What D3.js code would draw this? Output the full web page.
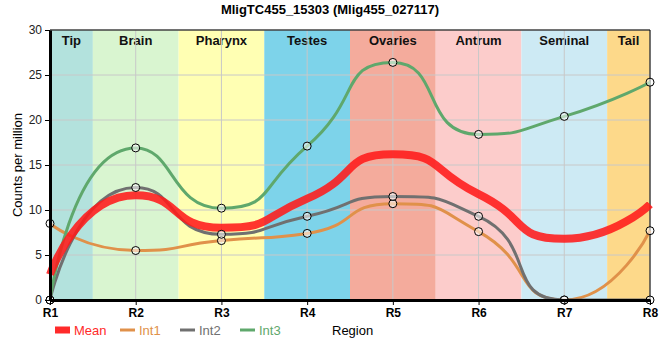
<!DOCTYPE html>
<html><head><meta charset="utf-8">
<script src="https://cdn.jsdelivr.net/npm/d3@7"></script>
<style>body{margin:0;background:#fff;font-family:"Liberation Sans",Arial,sans-serif}</style>
</head><body><svg id="c" width="660" height="360"></svg>
<script>
const title = "MligTC455_15303 (Mlig455_027117)";
const regions = ["R1","R2","R3","R4","R5","R6","R7","R8"];
const bandNames = ["Tip","Brain","Pharynx","Testes","Ovaries","Antrum","Seminal","Tail"];
const bandColors = ["#b3e2dd","#d9f5d0","#ffffb3","#7dd3ea","#f4ab9c","#fccccb","#cdeaf4","#fdd98a"];
const int1 = [8.5, 5.5, 6.6, 7.4, 10.7, 7.6, 0, 7.7];
const int2 = [0, 12.5, 7.3, 9.3, 11.5, 9.3, 0, 0];
const int3 = [0, 16.9, 10.2, 17.1, 26.4, 18.4, 20.4, 24.2];
const meanVals = regions.map((r,i)=>(int1[i]+int2[i]+int3[i])/3);
const yTicks = [0,5,10,15,20,25,30];

const svg = d3.select("#c");
const L=50,R=650,T=30,B=300;
const x = d3.scalePoint().domain(regions).range([L,R]);
const y = d3.scaleLinear().domain([0,30]).range([B,T]);
const step = x.step();

// smoothed bezier path (length-ratio control points, clamped to neighbour range)
function smoothPath(vals, smooth=0.6){
  const P = vals.map((v,i)=>[x(regions[i]), y(v)]);
  const path = d3.path();
  let prevX, prevY, cpx0, cpy0;
  const mn=Math.min, mx=Math.max;
  for(let i=0;i<P.length;i++){
    const [px,py] = P[i];
    if(i===0){ path.moveTo(px,py); cpx0=px; cpy0=py; }
    else {
      let cpx1, cpy1, ncx=px, ncy=py;
      if(i===P.length-1){ cpx1=px; cpy1=py; }
      else {
        const [nx,ny] = P[i+1];
        let vx = nx-prevX, vy = ny-prevY;
        const dx0=px-prevX, dx1=nx-px, dy0=py-prevY, dy1=ny-py;
        const l0=Math.hypot(dx0,dy0), l1=Math.hypot(dx1,dy1);
        const r = l1/(l1+l0);
        ncx = px + vx*smooth*r; ncy = py + vy*smooth*r;
        ncx = mn(ncx, mx(nx,px)); ncy = mn(ncy, mx(ny,py));
        ncx = mx(ncx, mn(nx,px)); ncy = mx(ncy, mn(ny,py));
        vx = ncx-px; vy = ncy-py;
        cpx1 = px - vx*l0/l1; cpy1 = py - vy*l0/l1;
        cpx1 = mn(cpx1, mx(prevX,px)); cpy1 = mn(cpy1, mx(prevY,py));
        cpx1 = mx(cpx1, mn(prevX,px)); cpy1 = mx(cpy1, mn(prevY,py));
        vx = px-cpx1; vy = py-cpy1;
        ncx = px + vx*l1/l0; ncy = py + vy*l1/l0;
      }
      path.bezierCurveTo(cpx0,cpy0,cpx1,cpy1,px,py);
      cpx0=ncx; cpy0=ncy;
    }
    prevX=px; prevY=py;
  }
  return path.toString();
}

// bands
const g = svg.append("g");
bandNames.forEach((n,i)=>{
  const cx = x(regions[i]);
  const x0 = Math.max(L, cx-step/2), x1 = Math.min(R, cx+step/2);
  g.append("rect").attr("x",x0).attr("y",T).attr("width",x1-x0).attr("height",B-T).attr("fill",bandColors[i]);
  g.append("text").attr("x",(x0+x1)/2).attr("y",T+15).attr("text-anchor","middle")
    .attr("font-size",13).attr("font-weight","bold").attr("fill","#111").text(n);
});
// grid
svg.append("g").selectAll("line").data(regions).join("line")
  .attr("x1",d=>x(d)).attr("x2",d=>x(d)).attr("y1",T).attr("y2",B).attr("stroke","#c8c8c8").attr("stroke-width",1);
svg.append("g").selectAll("line").data(yTicks).join("line")
  .attr("x1",L).attr("x2",R).attr("y1",d=>y(d)).attr("y2",d=>y(d)).attr("stroke","#c8c8c8").attr("stroke-width",1);
// frame
svg.append("line").attr("x1",L).attr("x2",R).attr("y1",T).attr("y2",T).attr("stroke","#000");
svg.append("line").attr("x1",R).attr("x2",R).attr("y1",T).attr("y2",B).attr("stroke","#000");

const series = [
  {name:"Int1", vals:int1, color:"#e0914a"},
  {name:"Int2", vals:int2, color:"#707070"},
  {name:"Int3", vals:int3, color:"#5fa86c"}
];
series.forEach(s=>{
  svg.append("path").attr("d",smoothPath(s.vals)).attr("fill","none").attr("stroke",s.color).attr("stroke-width",3);
});
svg.append("path").attr("d",smoothPath(meanVals)).attr("fill","none").attr("stroke","#ff1a1a").attr("stroke-opacity",0.88).attr("stroke-width",8);
series.forEach(s=>{
  svg.append("g").selectAll("circle").data(s.vals).join("circle")
    .attr("cx",(d,i)=>x(regions[i])).attr("cy",d=>y(d)).attr("r",4)
    .attr("fill","rgba(255,255,255,0.55)").attr("stroke","#000").attr("stroke-width",1);
});

// axes
const ya = svg.append("g").attr("transform",`translate(${L},0)`).call(d3.axisLeft(y).tickValues(yTicks).tickSize(5).tickSizeOuter(0));
ya.select(".domain").attr("stroke-width",3);
ya.selectAll("text").attr("font-size",12).attr("font-family","Liberation Sans, Arial").attr("fill","#222");
const xa = svg.append("g").attr("transform",`translate(0,${B})`).call(d3.axisBottom(x).tickSize(5).tickSizeOuter(0));
xa.select(".domain").attr("stroke-width",3);
xa.selectAll("text").attr("font-size",12).attr("font-weight","bold").attr("font-family","Liberation Sans, Arial").attr("fill","#000");

// title
svg.append("text").attr("x",330).attr("y",14).attr("text-anchor","middle").attr("font-size",13).attr("font-weight","bold").text(title);
svg.append("text").attr("transform","translate(22,165) rotate(-90)").attr("text-anchor","middle").attr("font-size",13).text("Counts per million");
svg.append("text").attr("x",332).attr("y",335).attr("font-size",13).text("Region");

// legend
const leg = [{name:"Mean",color:"#ff2a2a",w:7},...series.map(s=>({name:s.name,color:s.color,w:3}))];
const lx = [55,120,180,240];
leg.forEach((l,i)=>{
  svg.append("line").attr("x1",lx[i]).attr("x2",lx[i]+15).attr("y1",330).attr("y2",330).attr("stroke",l.color).attr("stroke-width",l.w);
  svg.append("text").attr("x",lx[i]+19).attr("y",335).attr("font-size",13).attr("fill",l.color).text(l.name);
});
</script></body></html>
